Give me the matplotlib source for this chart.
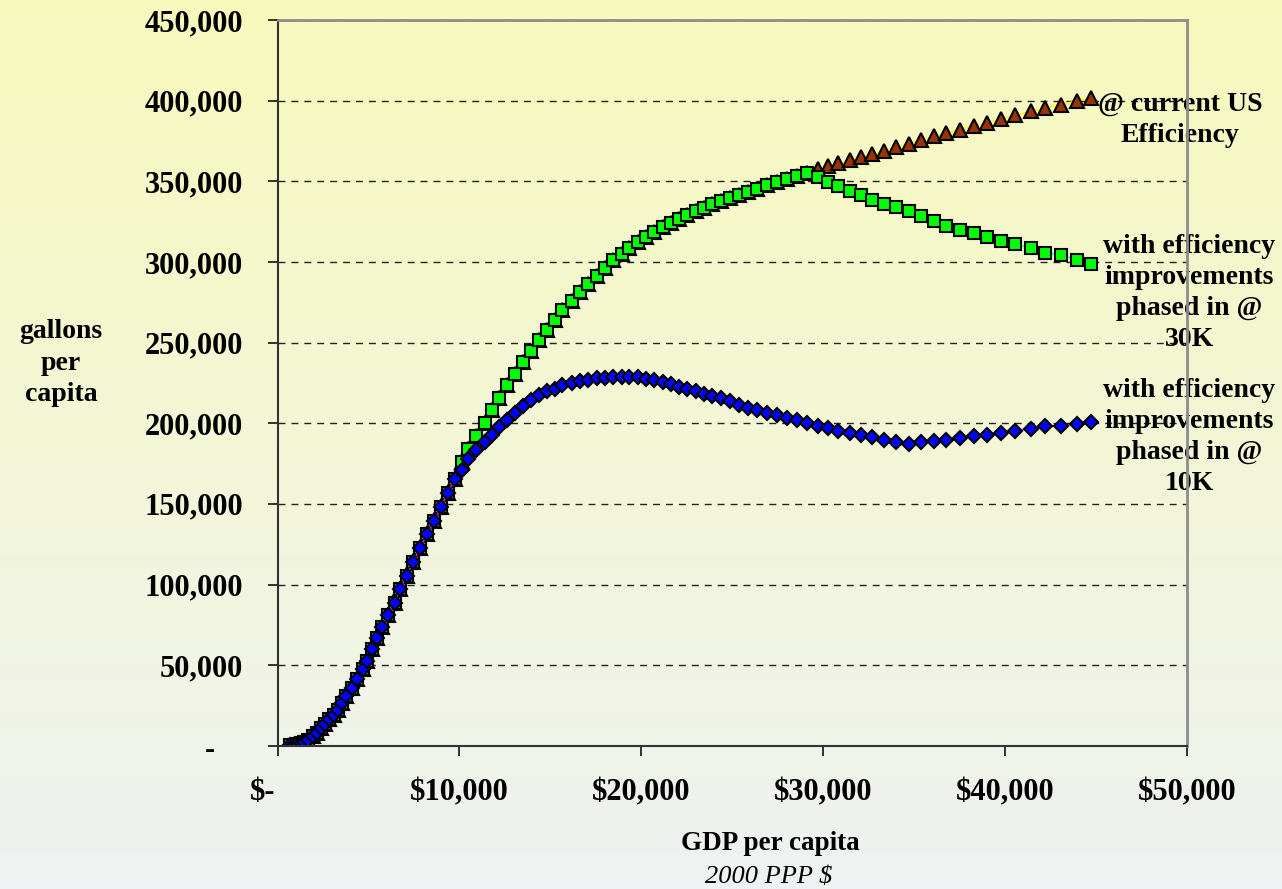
import numpy as np
import matplotlib
matplotlib.use("Agg")
import matplotlib.pyplot as plt
from matplotlib.colors import LinearSegmentedColormap

# GDP per capita (2000 PPP $) at each step along the path
gdp = [710, 910, 1100, 1290, 1480, 1690, 1930, 2150, 2370, 2610,
       2850, 3100, 3340, 3540, 3780, 4080, 4350, 4680, 4940, 5220,
       5470, 5740, 6090, 6430, 6730, 7100, 7460, 7830, 8230, 8620,
       8970, 9350, 9750, 10120, 10490, 10910, 11400, 11770, 12190, 12630,
       13050, 13510, 13910, 14390, 14790, 15250, 15650, 16170, 16620, 17080,
       17540, 18000, 18450, 18920, 19330, 19800, 20250, 20690, 21170, 21610,
       22080, 22520, 23000, 23440, 23860, 24360, 24870, 25380, 25870, 26370,
       26890, 27430, 28020, 28530, 29080, 29690, 30270, 30820, 31460, 32070,
       32690, 33350, 33990, 34720, 35370, 36100, 36740, 37510, 38280, 39010,
       39760, 40530, 41410, 42180, 43040, 43960, 44690]

# gallons per capita, common to all three paths below ~$10K
low_income = [500, 600, 900, 1500, 2400, 3600, 5800, 8100, 10900, 13500,
              16400, 19100, 22500, 26400, 30900, 35700, 41400, 47400, 52800, 59800,
              66800, 73700, 81400, 88700, 97000, 105500, 114100, 122800, 131100, 139600,
              147900, 156900, 165200]

# current-efficiency path from ~$10K up to ~$29K
mid_income = [176000, 184200, 192300, 200300, 208200, 215900, 223400, 230700, 237800, 244700,
              251300, 257700, 263900, 269900, 275600, 281100, 286400, 291500, 296500, 301000,
              305000, 308800, 312300, 315500, 318600, 321500, 324200, 326800, 329200, 331500,
              333700, 335800, 337700, 339600, 341500, 343400, 345400, 347400, 349400, 351300,
              353200, 355400]

# above ~$29K
us_tail = [357600, 359500, 361200, 363000, 364900, 366900, 369000, 371300, 373400, 375600,
           377800, 379900, 382100, 384400, 386400, 388700, 390800, 393300, 395400, 397600,
           399900, 401600]
tail_30k = [352800, 349700, 347100, 344000, 341500, 338400, 335700, 334200, 331600, 328500,
            325400, 322500, 319500, 317800, 315600, 313000, 311100, 308500, 305700, 304300,
            301200, 298700]

# improvements phased in from ~$10K
path_10k = [171000, 177800, 183400, 188400, 193000, 197700, 202000, 206300, 210400, 214100,
            217200, 219700, 221500, 223400, 224900, 226200, 227100, 227900, 228200, 228400,
            228500, 228500, 228400, 227500, 226700, 225600, 224100, 222600, 221200, 219700,
            218300, 216900, 215500, 213800, 211600, 209700, 208200, 206600, 205100, 203500,
            202000, 200100, 198400, 196900, 195400, 194100, 192700, 191300, 189800, 188500,
            187400, 188200, 188700, 189900, 191000, 192100, 192700, 194100, 195200, 196700,
            198000, 198400, 199800, 200900]

us_eff = low_income + mid_income + us_tail
eff_30k = low_income + mid_income + tail_30k
eff_10k = low_income + path_10k

y_ticks = [0, 50000, 100000, 150000, 200000, 250000, 300000, 350000, 400000, 450000]
y_labels = ["", "50,000", "100,000", "150,000", "200,000", "250,000",
            "300,000", "350,000", "400,000", "450,000"]
x_ticks = [0, 10000, 20000, 30000, 40000, 50000]
x_labels = ["", "$10,000", "$20,000", "$30,000", "$40,000", "$50,000"]

label_us = "@ current US\nEfficiency"
label_30k = "with efficiency\nimprovements\nphased in @\n30K"
label_10k = "with efficiency\nimprovements\nphased in @\n10K"

SERIF = "Liberation Serif"

fig = plt.figure(figsize=(12.82, 8.89), dpi=100)

# soft vertical gradient behind everything
bg = fig.add_axes([0, 0, 1, 1])
bg.axis("off")
grad_cmap = LinearSegmentedColormap.from_list(
    "bg", ["#f7f9bc", "#f3f6d6", "#eef2f2"])
bg.imshow(np.linspace(0, 1, 256)[:, None], aspect="auto", cmap=grad_cmap,
          extent=[0, 1, 0, 1], interpolation="bilinear")
bg.set_xlim(0, 1)
bg.set_ylim(0, 1)

ax = fig.add_axes([0.21646, 0.16108, 0.70967, 0.81642])
ax.patch.set_alpha(0)
ax.set_xlim(0, 50000)
ax.set_ylim(0, 450000)

ax.yaxis.grid(True, linestyle=(0, (5.0, 4.3)), color="#222222", lw=1.0)
ax.set_axisbelow(True)

ax.plot(gdp, us_eff, color="#ffff00", lw=1.1, marker="^", ms=9.6,
        mfc="#993300", mec="black", mew=1.5, zorder=2)
ax.plot(gdp, eff_30k, color="#00ffff", lw=1.1, marker="s", ms=8.0,
        mfc="#00ff00", mec="black", mew=1.5, zorder=2)
ax.plot(gdp, eff_10k, color="#ff00ff", lw=1.1, marker="D", ms=6.9,
        mfc="#0000ff", mec="black", mew=1.5, zorder=2)

ax.set_yticks(y_ticks)
ax.set_yticklabels(y_labels)
ax.set_xticks(x_ticks)
ax.set_xticklabels(x_labels)
ax.tick_params(axis="both", direction="out", length=7, width=1.3,
               color="#222222")
ax.tick_params(axis="y", pad=18)
ax.tick_params(axis="x", pad=16.5)
for lab in ax.get_yticklabels() + ax.get_xticklabels():
    lab.set_fontfamily(SERIF)
    lab.set_fontweight("bold")
    lab.set_fontsize(22)

# zero labels in accounting style
ax.annotate("-", xy=(0, 0), xycoords=("axes fraction", "data"),
            xytext=(-48.6, -8.6), textcoords="offset points",
            ha="center", va="baseline", fontsize=22, family=SERIF,
            weight="bold", annotation_clip=False)
ax.annotate("$-", xy=(0, 0), xycoords=("data", "axes fraction"),
            xytext=(-11, -(7 + 16.5)), textcoords="offset points",
            ha="center", va="top", fontsize=22, family=SERIF,
            weight="bold", annotation_clip=False)

for side in ("left", "bottom"):
    ax.spines[side].set_color("#333333")
    ax.spines[side].set_linewidth(1.5)
for side in ("top", "right"):
    ax.spines[side].set_color("#8c8c8c")
    ax.spines[side].set_linewidth(2.0)

# series labels beside the last point of each path
txt = dict(ha="center", va="center", multialignment="center",
           fontsize=20, family=SERIF, weight="bold", linespacing=1.32,
           textcoords="offset points", annotation_clip=False, zorder=2)
ax.annotate(label_us, xy=(gdp[-1], us_eff[-1]), xytext=(64.3, -15.5), **txt)
ax.annotate(label_30k, xy=(gdp[-1], eff_30k[-1]), xytext=(70.8, -20.9), **txt)
ax.annotate(label_10k, xy=(gdp[-1], eff_10k[-1]), xytext=(70.8, -11.2), **txt)

fig.text(61 / 1282, 1 - 363 / 889, "gallons\nper\ncapita", ha="center",
         va="center", fontsize=20, family=SERIF, weight="bold",
         linespacing=1.32)
fig.text(770 / 1282, 1 - 843 / 889, "GDP per capita", ha="center",
         va="center", fontsize=19.5, family=SERIF, weight="bold")
fig.text(769 / 1282, 1 - 877 / 889, "2000 PPP $", ha="center",
         va="center", fontsize=19, family=SERIF, style="italic")

fig.savefig("out.png", dpi=100)
